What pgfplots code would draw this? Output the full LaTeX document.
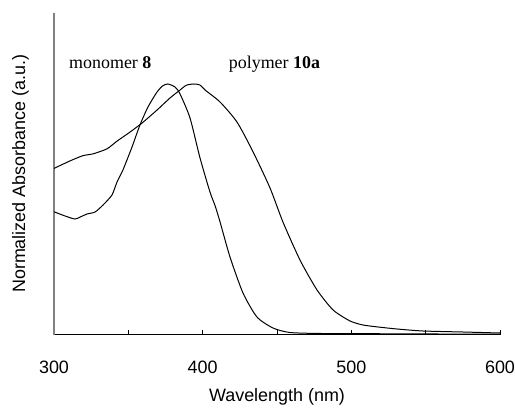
\documentclass[border=0pt]{standalone}
\usepackage{pgfplots}
\pgfplotsset{compat=1.18}
\usepackage{fontspec}
\setmainfont{Liberation Sans}
\newfontfamily\serifont{Liberation Serif}
\begin{document}
\fontsize{18}{22}\selectfont
\begin{tikzpicture}[x=1bp,y=1bp]
\useasboundingbox (0,0) rectangle (515,407);
\begin{axis}[
  at={(54bp,72.5bp)}, anchor=south west,
  width=446bp, height=321.5bp, scale only axis,
  xmin=300, xmax=600, ymin=0, ymax=1.2834,
  axis x line=bottom, axis y line=left,
  axis line style={-},
  x axis line style={-, black, line width=1.2bp},
  y axis line style={-, gray, line width=1.5bp},
  xtick={300,350,...,600}, xticklabels={300,,400,,500,,600},
  ytick=\empty,
  tick align=inside, major tick length=5bp,
  tick style={black, line width=0.8bp},
  xticklabel style={yshift=-20bp},
  /pgf/number format/assume math mode=true,
  xlabel={Wavelength (nm)},
  ylabel={Normalized Absorbance (a.u.)},
  xlabel style={at={(axis description cs:0.5,-0.209)}, anchor=base},
  ylabel style={at={(axis description cs:-0.065,0.5)}, anchor=base},
  clip=false,
]
% monomer 8
\addplot[black, line width=1bp, smooth, tension=0.4] coordinates {
(300,0.490) (307,0.474) (314.1,0.461) (318,0.470) (322.2,0.481) (327.6,0.489)
(333,0.517) (339,0.557) (342.4,0.609) (346.4,0.657) (352.5,0.749)
(357.8,0.836) (363.2,0.908) (369.3,0.968) (373,0.992) (376.5,1.0)
(381.4,0.988) (384.8,0.960) (391.5,0.864) (398.2,0.705) (404.9,0.569)
(408.3,0.515) (411.7,0.449) (418.4,0.309) (427.1,0.166) (436.5,0.070)
(447.3,0.026) (458.7,0.008) (480,0.004) (520,0.003) (560,0.002) (600,0.002)
};
% polymer 10a
\addplot[black, line width=1bp, smooth, tension=0.4] coordinates {
(300,0.663) (310.8,0.693) (319.5,0.714) (326.2,0.721) (335.6,0.741)
(342.4,0.772) (351.1,0.808) (359.2,0.844) (369.3,0.896) (378,0.944)
(384.8,0.976) (389,0.995) (394,1.0) (398.2,0.996) (401.6,0.976)
(411.7,0.928) (423.1,0.848) (433.9,0.729) (445.3,0.585) (454,0.449)
(465.5,0.297) (476.9,0.178) (487.7,0.098) (499.1,0.054) (507.8,0.038)
(518,0.030) (530.7,0.022) (548.2,0.014) (575.1,0.010) (600,0.006)
};
\node[anchor=base west, inner sep=0pt, font=\serifont] at (axis cs:310.1,1.06) {monomer \textbf{8}};
\node[anchor=base west, inner sep=0pt, font=\serifont] at (axis cs:417.5,1.06) {polymer \textbf{10a}};
\end{axis}
\end{tikzpicture}
\end{document}
